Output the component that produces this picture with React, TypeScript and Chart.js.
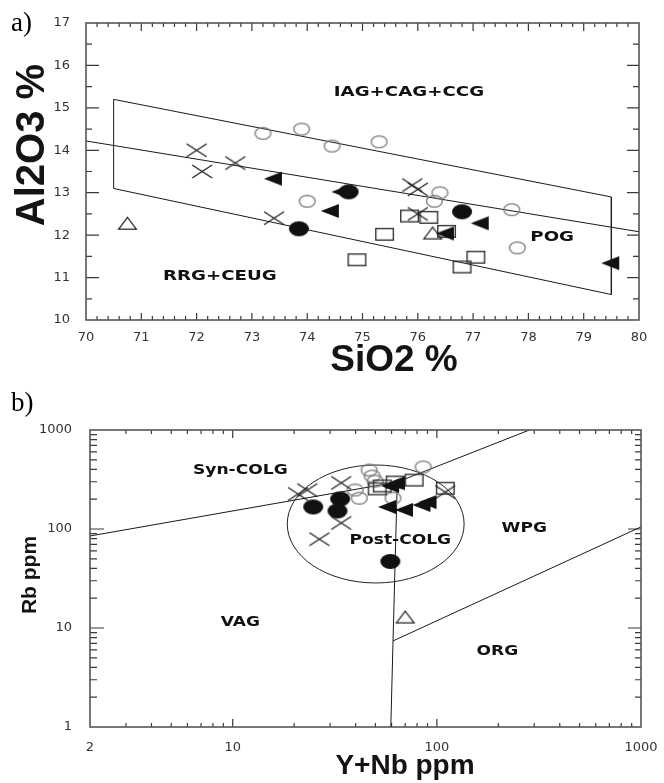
import React, { useEffect, useRef } from "react";
import { Chart, registerables } from "chart.js";
Chart.register(...registerables);

// ---------- Panel a: SiO2 % vs Al2O3 % ----------
const A_SIO2_TICKS = [70, 71, 72, 73, 74, 75, 76, 77, 78, 79, 80];
const A_AL2O3_TICKS = [10, 11, 12, 13, 14, 15, 16, 17];

const A_OPEN_CIRCLE_SIO2 = [73.2, 73.9, 74.45, 75.3, 74.0, 76.4, 76.3, 77.7, 77.8];
const A_OPEN_CIRCLE_AL2O3 = [14.4, 14.5, 14.1, 14.2, 12.8, 13.0, 12.8, 12.6, 11.7];
const A_CROSS_SIO2 = [72.0, 72.1, 72.7, 73.4, 75.9, 76.0, 76.0];
const A_CROSS_AL2O3 = [14.0, 13.5, 13.7, 12.4, 13.18, 13.08, 12.5];
const A_FILLED_CIRCLE_SIO2 = [74.75, 73.85, 76.8];
const A_FILLED_CIRCLE_AL2O3 = [13.02, 12.15, 12.55];
const A_FILLED_TRI_SIO2 = [73.38, 74.6, 74.41, 77.12, 76.49, 79.48];
const A_FILLED_TRI_AL2O3 = [13.33, 13.02, 12.57, 12.28, 12.04, 11.34];
const A_OPEN_TRI_SIO2 = [70.75, 76.27];
const A_OPEN_TRI_AL2O3 = [12.28, 12.05];
const A_SQUARE_SIO2 = [75.4, 74.9, 75.85, 76.2, 76.52, 77.05, 76.8];
const A_SQUARE_AL2O3 = [12.02, 11.42, 12.45, 12.42, 12.09, 11.48, 11.25];

// field boundaries (panel a)
const A_FIELD_SIO2 = [70.5, 79.5, 79.5, 70.5, 70.5];
const A_FIELD_AL2O3 = [15.2, 12.9, 10.6, 13.1, 15.2];
const A_DIVIDE_SIO2 = [70, 80];
const A_DIVIDE_AL2O3 = [14.22, 12.08];

const A_LABELS = ["IAG+CAG+CCG", "RRG+CEUG", "POG"];
const A_LABEL_SIO2 = [75.84, 72.42, 78.43];
const A_LABEL_AL2O3 = [15.37, 11.03, 11.95];

// ---------- Panel b: Y+Nb ppm vs Rb ppm ----------
const B_YNB_TICKS = [2, 10, 100, 1000];
const B_RB_TICKS = [1, 10, 100, 1000];

const B_OPEN_CIRCLE_YNB = [46.6, 48.2, 49.9, 39.8, 41.7, 61, 85.7];
const B_OPEN_CIRCLE_RB = [394, 343, 305, 248, 205, 205, 423];
const B_CROSS_YNB = [20.9, 23.2, 34, 34, 26.6, 110];
const B_CROSS_RB = [226, 247, 292, 115, 79, 236];
const B_FILLED_CIRCLE_YNB = [24.8, 33.6, 32.6, 59.2];
const B_FILLED_CIRCLE_RB = [167, 201, 152, 47];
const B_FILLED_TRI_YNB = [57, 69, 84, 90, 59, 63];
const B_FILLED_TRI_RB = [167, 156, 175, 187, 272, 290];
const B_OPEN_TRI_YNB = [70];
const B_OPEN_TRI_RB = [12.9];
const B_SQUARE_YNB = [51, 54, 62.5, 77.4, 110];
const B_SQUARE_RB = [254, 272, 298, 312, 258];

// field boundaries (panel b)
const B_SYN_VAG_YNB = [2, 64];
const B_SYN_VAG_RB = [85, 298];
const B_SYN_WPG_YNB = [64, 284];
const B_SYN_WPG_RB = [298, 1000];
const B_VAG_ORG_YNB = [59.5, 61, 64];
const B_VAG_ORG_RB = [1, 7.4, 298];
const B_WPG_ORG_YNB = [61, 1000];
const B_WPG_ORG_RB = [7.4, 105];
const B_POSTCOLG_YNB = [18.5, 136];
const B_POSTCOLG_RB = [28.5, 443];

const B_LABELS = ["Syn-COLG", "Post-COLG", "WPG", "VAG", "ORG"];
const B_LABEL_YNB = [10.9, 66.2, 268, 10.9, 198];
const B_LABEL_RB = [394, 77.4, 102, 11.5, 5.86];

// ---------- helpers ----------
const zip = (xs: number[], ys: number[]) => xs.map((x, i) => ({ x, y: ys[i] }));

function marker(w: number, h: number, draw: (g: CanvasRenderingContext2D, w: number, h: number) => void) {
  const c = document.createElement("canvas");
  c.width = w + 4;
  c.height = h + 4;
  const g = c.getContext("2d")!;
  g.translate(2, 2);
  draw(g, w, h);
  return c;
}

function makeMarkers() {
  return {
    openCircle: marker(17, 13, (g, w, h) => {
      g.beginPath();
      g.ellipse(w / 2, h / 2, w / 2 - 0.6, h / 2 - 0.6, 0, 0, Math.PI * 2);
      g.strokeStyle = "#7a7a7a";
      g.lineWidth = 1.3;
      g.stroke();
    }),
    filledCircle: marker(20, 15, (g, w, h) => {
      g.beginPath();
      g.ellipse(w / 2, h / 2, w / 2, h / 2, 0, 0, Math.PI * 2);
      g.fillStyle = "#111";
      g.fill();
    }),
    cross: marker(20, 13, (g, w, h) => {
      g.beginPath();
      g.moveTo(0, 0);
      g.lineTo(w, h);
      g.moveTo(w, 0);
      g.lineTo(0, h);
      g.strokeStyle = "#1a1a1a";
      g.lineWidth = 1.2;
      g.stroke();
    }),
    filledTri: marker(18, 14, (g, w, h) => {
      g.beginPath();
      g.moveTo(0, h / 2);
      g.lineTo(w, 0);
      g.lineTo(w, h);
      g.closePath();
      g.fillStyle = "#111";
      g.fill();
    }),
    openTri: marker(19, 13, (g, w, h) => {
      g.beginPath();
      g.moveTo(w / 2, 0.6);
      g.lineTo(w - 0.6, h - 0.6);
      g.lineTo(0.6, h - 0.6);
      g.closePath();
      g.strokeStyle = "#222";
      g.lineWidth = 1.2;
      g.stroke();
    }),
    square: marker(19, 13, (g, w, h) => {
      g.strokeStyle = "#333";
      g.lineWidth = 1.4;
      g.strokeRect(0.7, 0.7, w - 1.4, h - 1.4);
    }),
  };
}

function linearSteps(min: number, max: number, step: number) {
  const out: number[] = [];
  const n = Math.round((max - min) / step);
  for (let i = 0; i <= n; i++) out.push(min + i * step);
  return out;
}
function logSteps(min: number, max: number) {
  const out: number[] = [];
  for (let e = Math.floor(Math.log10(min)); e <= Math.ceil(Math.log10(max)); e++) {
    for (let m = 1; m < 10; m++) {
      const v = m * Math.pow(10, e);
      if (v >= min - 1e-9 && v <= max + 1e-9) out.push(v);
    }
  }
  return out;
}

// Inside tick marks as a line dataset (segments separated by gaps), sized through the chart's scales
function tickDataset(
  chart: any,
  xv: number[],
  yv: number[],
  xMin: number,
  xMax: number,
  yMin: number,
  yMax: number,
  isMajorX: (v: number) => boolean,
  isMajorY: (v: number) => boolean,
  lens: { left: number[]; right: number[]; top: number[]; bottom: number[] }
) {
  const xs = chart.scales.x;
  const ys = chart.scales.y;
  const pxL = xs.getPixelForValue(xMin);
  const pxR = xs.getPixelForValue(xMax);
  const pyB = ys.getPixelForValue(yMin);
  const pyT = ys.getPixelForValue(yMax);
  const pts: { x: number; y: number | null }[] = [];
  xv.forEach((v) => {
    if (v <= xMin + 1e-9 || v >= xMax - 1e-9) return;
    const big = isMajorX(v);
    const lb = big ? lens.bottom[0] : lens.bottom[1];
    const lt = big ? lens.top[0] : lens.top[1];
    pts.push({ x: v, y: yMin }, { x: v, y: ys.getValueForPixel(pyB - lb) }, { x: v, y: null });
    pts.push({ x: v, y: yMax }, { x: v, y: ys.getValueForPixel(pyT + lt) }, { x: v, y: null });
  });
  yv.forEach((v) => {
    if (v <= yMin + 1e-9 || v >= yMax - 1e-9) return;
    const big = isMajorY(v);
    const ll = big ? lens.left[0] : lens.left[1];
    const lr = big ? lens.right[0] : lens.right[1];
    pts.push({ x: xMin, y: v }, { x: xs.getValueForPixel(pxL + ll), y: v }, { x: xMin, y: null });
    pts.push({ x: xMax, y: v }, { x: xs.getValueForPixel(pxR - lr), y: v }, { x: xMax, y: null });
  });
  return {
    data: pts,
    showLine: true,
    spanGaps: false,
    pointRadius: 0,
    borderColor: "#3a3a3a",
    borderWidth: 1.2,
    fill: false,
  };
}

const framePlugin = {
  id: "frameBox",
  afterDraw(chart: any) {
    const ctx = chart.ctx;
    const a = chart.chartArea;
    ctx.save();
    ctx.lineWidth = 1.6;
    ctx.strokeStyle = "#555";
    ctx.strokeRect(a.left, a.top, a.right - a.left, a.bottom - a.top);
    ctx.restore();
  },
};

function makeLabelPlugin(texts: string[], xs: number[], ys: number[], stretch: number) {
  return {
    id: "fieldLabels",
    afterDatasetsDraw(chart: any) {
      const { ctx, scales } = chart;
      ctx.save();
      ctx.font = "bold 14px 'DejaVu Sans', sans-serif";
      ctx.fillStyle = "#111";
      ctx.textAlign = "center";
      ctx.textBaseline = "middle";
      texts.forEach((txt, i) => {
        const px = scales.x.getPixelForValue(xs[i]);
        const py = scales.y.getPixelForValue(ys[i]);
        ctx.save();
        ctx.translate(px, py);
        ctx.scale(stretch, 1);
        ctx.fillText(txt, 0, 0);
        ctx.restore();
      });
      ctx.restore();
    },
  };
}

const ellipsePlugin = {
  id: "postColg",
  beforeDatasetsDraw(chart: any) {
    const { ctx, scales } = chart;
    const x1 = scales.x.getPixelForValue(B_POSTCOLG_YNB[0]);
    const x2 = scales.x.getPixelForValue(B_POSTCOLG_YNB[1]);
    const y1 = scales.y.getPixelForValue(B_POSTCOLG_RB[0]);
    const y2 = scales.y.getPixelForValue(B_POSTCOLG_RB[1]);
    ctx.save();
    ctx.beginPath();
    ctx.ellipse((x1 + x2) / 2, (y1 + y2) / 2, Math.abs(x2 - x1) / 2, Math.abs(y2 - y1) / 2, 0, 0, Math.PI * 2);
    ctx.strokeStyle = "#222";
    ctx.lineWidth = 1;
    ctx.stroke();
    ctx.restore();
  },
};

const TICK_FONT = { family: "'DejaVu Sans', sans-serif", size: 13 };
const isInt = (v: number) => Math.abs(v - Math.round(v)) < 1e-6;
const isDecade = (v: number) => isInt(Math.log10(v));

function pointSet(data: { x: number; y: number }[], style: HTMLCanvasElement) {
  return { data, pointStyle: style, pointRadius: 8, showLine: false };
}
function lineSet(data: { x: number; y: number }[]) {
  return { data, showLine: true, pointRadius: 0, borderColor: "#1a1a1a", borderWidth: 1, fill: false };
}

export default function App() {
  const refA = useRef<HTMLCanvasElement>(null);
  const refB = useRef<HTMLCanvasElement>(null);

  useEffect(() => {
    document.body.style.margin = "0";
    const mk = makeMarkers();

    const chartA = new Chart(refA.current!, {
      type: "scatter",
      data: {
        datasets: [
          pointSet(zip(A_OPEN_CIRCLE_SIO2, A_OPEN_CIRCLE_AL2O3), mk.openCircle),
          pointSet(zip(A_CROSS_SIO2, A_CROSS_AL2O3), mk.cross),
          pointSet(zip(A_FILLED_CIRCLE_SIO2, A_FILLED_CIRCLE_AL2O3), mk.filledCircle),
          pointSet(zip(A_FILLED_TRI_SIO2, A_FILLED_TRI_AL2O3), mk.filledTri),
          pointSet(zip(A_OPEN_TRI_SIO2, A_OPEN_TRI_AL2O3), mk.openTri),
          pointSet(zip(A_SQUARE_SIO2, A_SQUARE_AL2O3), mk.square),
          lineSet(zip(A_FIELD_SIO2, A_FIELD_AL2O3)),
          lineSet(zip(A_DIVIDE_SIO2, A_DIVIDE_AL2O3)),
        ] as any,
      },
      options: {
        responsive: false,
        animation: false,
        events: [],
        layout: { padding: { left: 0, top: 23, right: 25, bottom: 0 }, autoPadding: false } as any,
        plugins: { legend: { display: false }, tooltip: { enabled: false } },
        scales: {
          x: {
            type: "linear",
            min: A_SIO2_TICKS[0],
            max: A_SIO2_TICKS[A_SIO2_TICKS.length - 1],
            grid: { display: false },
            border: { display: false },
            ticks: {
              stepSize: 1,
              autoSkip: false,
              maxRotation: 0,
              padding: 2,
              color: "#333",
              font: TICK_FONT,
              callback: (v: any) => (A_SIO2_TICKS.some((t) => Math.abs(t - v) < 1e-6) ? String(Math.round(v)) : ""),
            },
            afterFit: (s: any) => {
              s.height = 75;
              s.paddingLeft = 0;
              s.paddingRight = 0;
            },
          },
          y: {
            type: "linear",
            min: A_AL2O3_TICKS[0],
            max: A_AL2O3_TICKS[A_AL2O3_TICKS.length - 1],
            grid: { display: false },
            border: { display: false },
            ticks: {
              stepSize: 1,
              autoSkip: false,
              padding: 8,
              color: "#333",
              font: TICK_FONT,
              callback: (v: any) => (A_AL2O3_TICKS.some((t) => Math.abs(t - v) < 1e-6) ? String(Math.round(v)) : ""),
            },
            afterFit: (s: any) => {
              s.width = 86;
              s.paddingTop = 0;
              s.paddingBottom = 0;
            },
          },
        },
      } as any,
      plugins: [makeLabelPlugin(A_LABELS, A_LABEL_SIO2, A_LABEL_AL2O3, 1.3), framePlugin],
    });

    const chartB = new Chart(refB.current!, {
      type: "scatter",
      data: {
        datasets: [
          pointSet(zip(B_FILLED_TRI_YNB, B_FILLED_TRI_RB), mk.filledTri),
          pointSet(zip(B_FILLED_CIRCLE_YNB, B_FILLED_CIRCLE_RB), mk.filledCircle),
          pointSet(zip(B_CROSS_YNB, B_CROSS_RB), mk.cross),
          pointSet(zip(B_SQUARE_YNB, B_SQUARE_RB), mk.square),
          pointSet(zip(B_OPEN_CIRCLE_YNB, B_OPEN_CIRCLE_RB), mk.openCircle),
          pointSet(zip(B_OPEN_TRI_YNB, B_OPEN_TRI_RB), mk.openTri),
          lineSet(zip(B_SYN_VAG_YNB, B_SYN_VAG_RB)),
          lineSet(zip(B_SYN_WPG_YNB, B_SYN_WPG_RB)),
          lineSet(zip(B_VAG_ORG_YNB, B_VAG_ORG_RB)),
          lineSet(zip(B_WPG_ORG_YNB, B_WPG_ORG_RB)),
        ] as any,
      },
      options: {
        responsive: false,
        animation: false,
        events: [],
        layout: { padding: { left: 0, top: 35, right: 23, bottom: 0 }, autoPadding: false } as any,
        plugins: { legend: { display: false }, tooltip: { enabled: false } },
        scales: {
          x: {
            type: "logarithmic",
            min: B_YNB_TICKS[0],
            max: B_YNB_TICKS[B_YNB_TICKS.length - 1],
            grid: { display: false },
            border: { display: false },
            ticks: {
              autoSkip: false,
              maxRotation: 0,
              padding: 5,
              color: "#333",
              font: TICK_FONT,
              callback: (v: any) => (B_YNB_TICKS.some((t) => Math.abs(t - v) < 1e-6) ? String(v) : ""),
            },
            afterFit: (s: any) => {
              s.height = 56;
              s.paddingLeft = 0;
              s.paddingRight = 0;
            },
          },
          y: {
            type: "logarithmic",
            min: B_RB_TICKS[0],
            max: B_RB_TICKS[B_RB_TICKS.length - 1],
            grid: { display: false },
            border: { display: false },
            ticks: {
              autoSkip: false,
              padding: 10,
              color: "#333",
              font: TICK_FONT,
              callback: (v: any) => (B_RB_TICKS.some((t) => Math.abs(t - v) < 1e-6) ? String(v) : ""),
            },
            afterFit: (s: any) => {
              s.width = 90;
              s.paddingTop = 0;
              s.paddingBottom = 0;
            },
          },
        },
      } as any,
      plugins: [ellipsePlugin, makeLabelPlugin(B_LABELS, B_LABEL_YNB, B_LABEL_RB, 1.22), framePlugin],
    });

    try {
      const aMinX = A_SIO2_TICKS[0];
      const aMaxX = A_SIO2_TICKS[A_SIO2_TICKS.length - 1];
      const aMinY = A_AL2O3_TICKS[0];
      const aMaxY = A_AL2O3_TICKS[A_AL2O3_TICKS.length - 1];
      chartA.data.datasets.push(
        tickDataset(
          chartA,
          linearSteps(aMinX, aMaxX, 0.2),
          linearSteps(aMinY, aMaxY, 0.5),
          aMinX,
          aMaxX,
          aMinY,
          aMaxY,
          isInt,
          isInt,
          { left: [13, 6], right: [12, 6], top: [8, 4], bottom: [7, 4] }
        ) as any
      );
      chartA.update();
      const bMinX = B_YNB_TICKS[0];
      const bMaxX = B_YNB_TICKS[B_YNB_TICKS.length - 1];
      const bMinY = B_RB_TICKS[0];
      const bMaxY = B_RB_TICKS[B_RB_TICKS.length - 1];
      chartB.data.datasets.push(
        tickDataset(
          chartB,
          logSteps(bMinX, bMaxX),
          logSteps(bMinY, bMaxY),
          bMinX,
          bMaxX,
          bMinY,
          bMaxY,
          isDecade,
          isDecade,
          { left: [14, 7], right: [13, 6], top: [8, 4], bottom: [8, 4] }
        ) as any
      );
      chartB.update();
    } catch (e) {
      // keep the charts even if tick marks cannot be added
    }

    return () => {
      chartA.destroy();
      chartB.destroy();
    };
  }, []);

  const title = (cx: number, cy: number, size: number, rotate: boolean): React.CSSProperties => ({
    position: "absolute",
    left: cx,
    top: cy,
    transform: `translate(-50%, -50%)${rotate ? " rotate(-90deg)" : ""}`,
    font: `bold ${size}px 'Liberation Sans', Arial, sans-serif`,
    lineHeight: 1,
    whiteSpace: "nowrap",
    color: "#141414",
    pointerEvents: "none",
  });
  const panelLabel = (top: number): React.CSSProperties => ({
    position: "absolute",
    left: 11,
    top,
    font: "27px 'Liberation Serif', 'Times New Roman', serif",
    lineHeight: "27px",
    color: "#000",
  });

  return (
    <div style={{ position: "relative", width: 664, height: 783, overflow: "hidden", background: "#fff" }}>
      <canvas ref={refA} width={664} height={395} style={{ position: "absolute", left: 0, top: 0 }} />
      <canvas ref={refB} width={664} height={388} style={{ position: "absolute", left: 0, top: 395 }} />
      <div style={panelLabel(9)}>a)</div>
      <div style={panelLabel(389)}>b)</div>
      <div style={title(30, 145, 40, true)}>Al2O3 %</div>
      <div style={title(394, 358, 37, false)}>SiO2 %</div>
      <div style={title(28, 575, 21, true)}>Rb ppm</div>
      <div style={title(405, 765, 28, false)}>Y+Nb ppm</div>
    </div>
  );
}
